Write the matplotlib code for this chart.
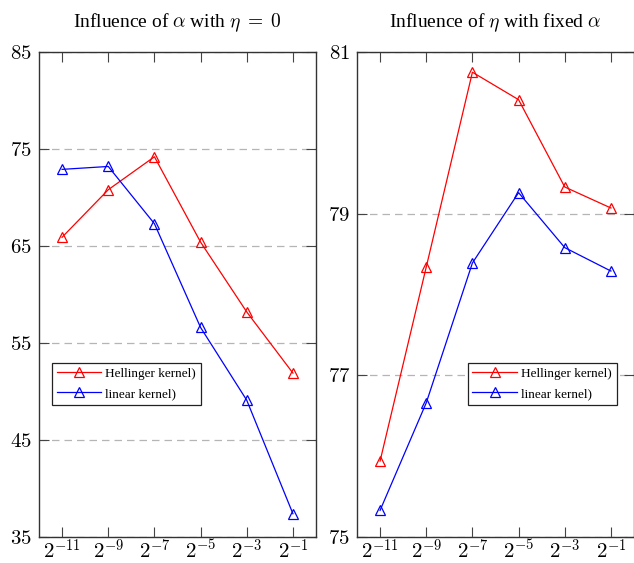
import numpy as np
import matplotlib
matplotlib.use("Agg")
import matplotlib.pyplot as plt

plt.rcParams['font.family'] = ['Liberation Serif', 'DejaVu Serif']
plt.rcParams['mathtext.fontset'] = 'cm'

# grid values (x axis, powers of two)
exponents = [-11, -9, -7, -5, -3, -1]
params = [2.0 ** e for e in exponents]
xtick_labels = [r'$2^{%d}$' % e for e in exponents]

# panel 1: influence of alpha (eta = 0)
alpha_hellinger = [65.9, 70.8, 74.2, 65.4, 58.2, 51.9]
alpha_linear = [72.9, 73.2, 67.3, 56.6, 49.1, 37.4]
alpha_yticks = [35, 45, 55, 65, 75, 85]

# panel 2: influence of eta (fixed alpha)
eta_hellinger = [75.94, 78.34, 80.75, 80.41, 79.33, 79.07]
eta_linear = [75.33, 76.66, 78.39, 79.26, 78.58, 78.29]
eta_yticks = [75, 77, 79, 81]

labels = ['Hellinger kernel)', 'linear kernel)']

fig = plt.figure(figsize=(6.34, 5.63), dpi=100)
ax1 = fig.add_axes([39 / 634, 26 / 563, 277 / 634, 485 / 563])
ax2 = fig.add_axes([357 / 634, 26 / 563, 277 / 634, 485 / 563])


def draw_panel(ax, y_h, y_l, yticks, title, leg_x):
    ax.plot(params, y_h, color='#ff0000', lw=0.9, marker='^', ms=7,
            mfc='none', mec='#ff0000', mew=0.9, label=labels[0])
    ax.plot(params, y_l, color='#0000ff', lw=0.9, marker='^', ms=7,
            mfc='none', mec='#0000ff', mew=0.9, label=labels[1])
    ax.set_xscale('log', base=2)
    ax.set_xlim(2.0 ** -12, 2.0 ** 0)
    ax.set_ylim(yticks[0], yticks[-1])
    ax.set_xticks(params)
    ax.set_xticklabels(xtick_labels)
    ax.minorticks_off()
    ax.set_yticks(yticks)
    ax.set_yticklabels([r'$%d$' % v for v in yticks])
    ax.tick_params(axis='both', direction='in', length=7, width=0.8,
                   color='#444444', top=True, right=True, labelsize=15)
    ax.tick_params(axis='x', pad=2)
    ax.tick_params(axis='y', pad=5)
    ax.grid(axis='y', color='#b5b5b5', linestyle=(0, (6, 4)), lw=0.9)
    ax.set_axisbelow(True)
    for sp in ax.spines.values():
        sp.set_linewidth(1.0)
        sp.set_color('#333333')
    ax.set_title(title, fontsize=14, pad=18)
    leg = ax.legend(loc='upper left', bbox_to_anchor=(leg_x, 0.359),
                    borderaxespad=0, fancybox=False, framealpha=1,
                    edgecolor='#222222', fontsize=9.5, handlelength=3.4,
                    handletextpad=0.3, borderpad=0.35, labelspacing=0.6)
    leg.get_frame().set_linewidth(0.9)


draw_panel(ax1, alpha_hellinger, alpha_linear, alpha_yticks,
           r'Influence of $\alpha$ with $\eta\;=\;0$', 0.047)
draw_panel(ax2, eta_hellinger, eta_linear, eta_yticks,
           r'Influence of $\eta$ with fixed $\alpha$', 0.40)

fig.savefig('out.png', dpi=100)
